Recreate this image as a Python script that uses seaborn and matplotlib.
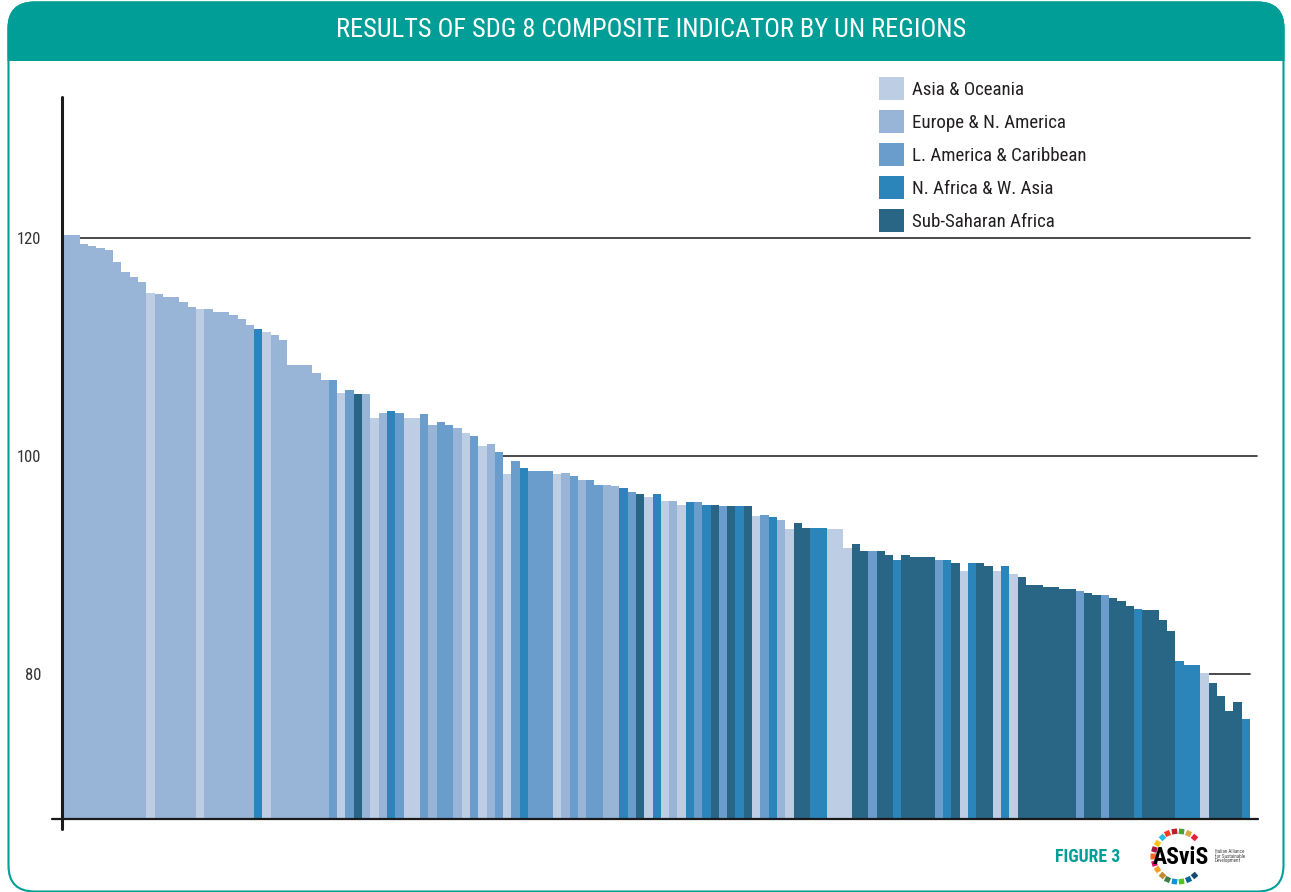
import numpy as np
import pandas as pd
import seaborn as sns
import matplotlib.pyplot as plt
from matplotlib.patches import FancyBboxPatch, Rectangle, Patch
from matplotlib.lines import Line2D

# regions and colours
regions = ["Asia & Oceania", "Europe & N. America", "L. America & Caribbean",
           "N. Africa & W. Asia", "Sub-Saharan Africa"]
codes = ["A", "E", "L", "N", "S"]
colors = ["#BCCDE4", "#98B5D8", "#6A9DCB", "#2B85BA", "#296585"]

# one code per country, in ranked order (A/E/L/N/S = region above)
region_code = ("EEEEEEEEEEAEEEEEAEEEEEEN"
               "AEEEEEEELALSEAENLAALEL"
               "LEALAELALNLLLAELELLEENL"
               "SANAEANLNSLSNSALNEASSNN"
               "AAASSLSSNSSSSLNSANSSAN"
               "ASSSSSSSLSSLSSSNSSSSNNNASSSSN")

# composite indicator value per country
score = [120.3, 120.3, 119.45, 119.27, 119.08, 118.9, 117.8, 116.9, 116.4, 116.0,
         114.95, 114.85, 114.6, 114.6, 114.1, 113.7, 113.5, 113.5, 113.2, 113.2,
         112.9, 112.6, 112.0, 111.65,
         111.4, 111.1, 110.6, 108.35, 108.35, 108.35, 107.6, 107.0, 107.0, 105.8,
         106.05, 105.7, 105.7, 103.5, 103.9, 104.1, 103.9, 103.5, 103.5, 103.85,
         102.8, 103.1,
         102.8, 102.55, 102.1, 101.8, 100.9, 101.1, 100.4, 98.35, 99.5, 98.9,
         98.6, 98.6, 98.6, 98.35, 98.4, 98.2, 97.8, 97.8, 97.3, 97.3,
         97.25, 97.05, 96.7,
         96.5, 96.2, 96.5, 95.9, 95.9, 95.5, 95.8, 95.8, 95.5, 95.5,
         95.4, 95.4, 95.4, 95.4, 94.5, 94.6, 94.4, 94.1, 93.3, 93.85,
         93.4, 93.4, 93.4,
         93.3, 93.3, 91.55, 91.9, 91.3, 91.3, 91.3, 90.9, 90.45, 90.9,
         90.7, 90.7, 90.7, 90.45, 90.45, 90.2, 89.45, 90.2, 90.2, 89.9,
         89.45, 89.9,
         89.2, 88.9, 88.2, 88.2, 88.0, 88.0, 87.8, 87.8, 87.6,
         87.4, 87.25, 87.25, 87.0, 86.7, 86.25, 85.95, 85.9, 85.9, 85.0,
         83.9, 81.2, 80.8, 80.8, 80.1, 79.2, 78.0, 76.6, 77.4, 75.85]

yticks = [80, 100, 120]
title = "RESULTS OF SDG 8 COMPOSITE INDICATOR BY UN REGIONS"

name_of = dict(zip(codes, regions))
df = pd.DataFrame({"rank": range(len(score)),
                   "score": score,
                   "region": [name_of[c] for c in region_code]})
pal = dict(zip(regions, colors))

teal = "#009E96"
# narrow fonts first, whichever is installed
font = ["Roboto Condensed", "DejaVu Sans Condensed", "Liberation Sans Narrow",
        "Open Sans Condensed", "Noto Sans Condensed", "Roboto", "DejaVu Sans"]

sns.set_theme(style="white")
plt.rcParams["font.family"] = font
plt.rcParams["font.stretch"] = "condensed"

W, H = 1291, 892
fig = plt.figure(figsize=(W / 100, H / 100), dpi=100)

# background layer in pixel coords: frame, header, logo
bg = fig.add_axes([0, 0, 1, 1], zorder=0)
bg.set_xlim(0, W)
bg.set_ylim(H, 0)
bg.axis("off")
bg.add_patch(FancyBboxPatch((8.5, 2.5), 1275, 120, boxstyle="round,pad=0,rounding_size=26",
                            fc=teal, ec=teal, lw=1.5))
bg.add_patch(Rectangle((6, 61), 1280, 80, fc="white", ec="none"))
bg.add_patch(FancyBboxPatch((8.5, 2.5), 1275, 889, boxstyle="round,pad=0,rounding_size=26",
                            fc="none", ec=teal, lw=1.5))
bg.text(651, 30, title, color="white", ha="center", va="center", fontsize=19)

bg.text(1120, 857, "FIGURE 3", color=teal, ha="right", va="center",
        fontsize=12.8, fontweight="bold")
sdg = ["#E5243B", "#DDA63A", "#4C9F38", "#C5192D", "#FF3A21", "#26BDE2", "#FCC30B",
       "#A21942", "#FD6925", "#DD1367", "#FD9D24", "#BF8B2E", "#3F7E44", "#0A97D9",
       "#56C02B", "#00689D", "#19486A"]
for k, ang in enumerate(np.linspace(50, 310, 17)):
    a = np.deg2rad(ang)
    bg.plot(1178 + 25 * np.cos(a), 856 - 25 * np.sin(a), marker=(4, 0, 45 + ang),
            ms=5.5, color=sdg[k], mec="none")
bg.text(1181, 857, "ASviS", ha="center", va="center", fontsize=17, fontweight="bold",
        color="black")
bg.text(1215, 856, "Italian Alliance\nfor Sustainable\nDevelopment", ha="left", va="center",
        fontsize=3.6, color="#444", linespacing=0.95)

# main chart
x0, x1, ytop, ybot = 63.3, 1250.0, 97, 818
ylo = 120 - (ybot - 238) / 10.9
yhi = 120 + (238 - ytop) / 10.9
ax = fig.add_axes([x0 / W, 1 - ybot / H, (x1 - x0) / W, (ybot - ytop) / H], zorder=1)
ax.patch.set_alpha(0)

sns.barplot(data=df, x="rank", y="score", hue="region", hue_order=regions, palette=pal,
            dodge=False, width=1.0, linewidth=0, saturation=1, legend=False, ax=ax)
ax.set_xlim(-0.5, len(score) - 0.5)
ax.set_ylim(ylo, yhi)
for p in ax.patches:
    p.set_zorder(2)

for v, xm in zip(yticks, [1.0, 1.006, 1.0]):
    ax.axhline(v, xmin=-0.001, xmax=xm, color="#3c3c3c", lw=1.3, zorder=1, clip_on=False)

sns.despine(ax=ax, left=True, bottom=True)
ax.set_xticks([])
ax.set_yticks(yticks)
ax.set_yticklabels([str(t) for t in yticks])
ax.tick_params(axis="y", length=0, pad=16, labelsize=12, labelcolor="#333333")
ax.set_xlabel("")
ax.set_ylabel("")

# axis lines drawn past the plot box, like the original
ax.add_line(Line2D([62, 62], [97, 829], color="#1a1a1a", lw=2.2,
                   transform=bg.transData, clip_on=False, zorder=5))
ax.add_line(Line2D([52, 1258], [818.5, 818.5], color="#1a1a1a", lw=1.6,
                   transform=bg.transData, clip_on=False, zorder=5))

handles = [Patch(fc=c, ec="none", label=r) for r, c in zip(regions, colors)]
ax.legend(handles=handles, loc="upper left", bbox_to_anchor=(879 / W, 1 - 77 / H),
          bbox_transform=fig.transFigure, frameon=False, fontsize=13.6,
          handlelength=1.3, handleheight=1.5, handletextpad=0.45, labelspacing=0.53,
          borderpad=0, borderaxespad=0, labelcolor="#231F20")

fig.savefig("out.png", dpi=100)
